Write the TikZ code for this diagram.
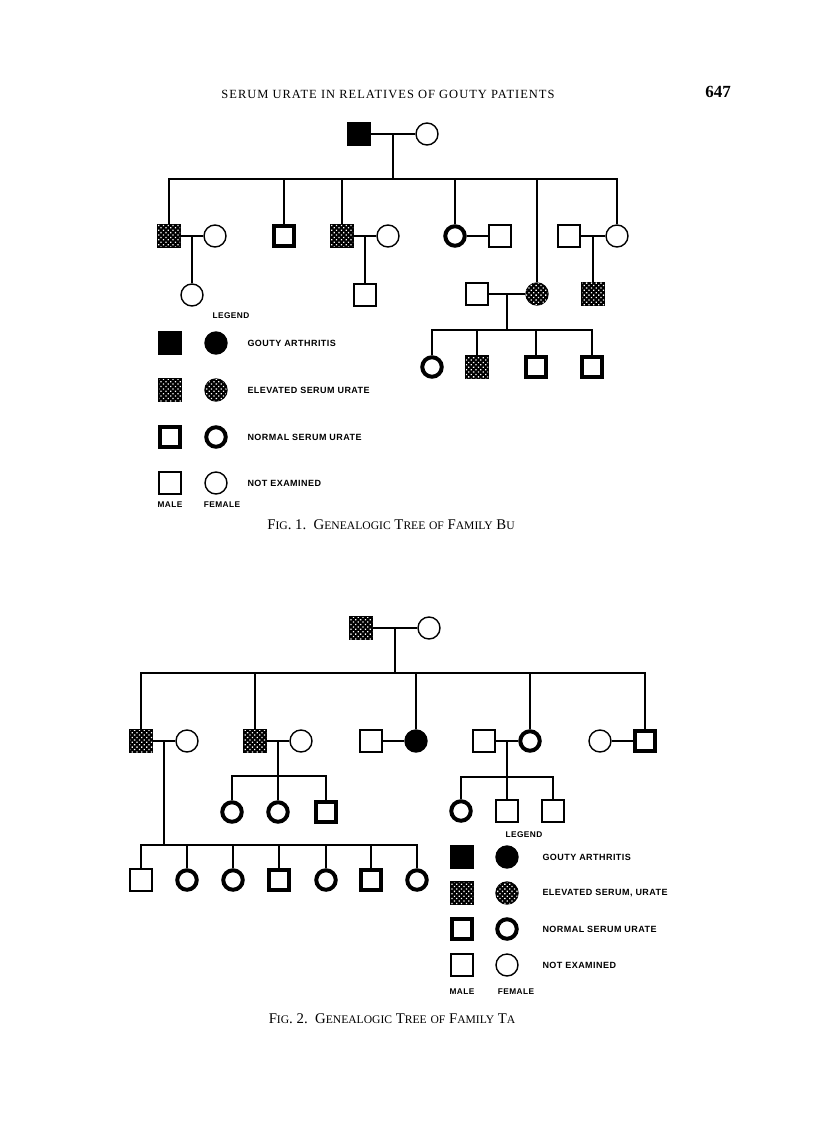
\documentclass[tikz,border=0pt]{standalone}
\usepackage{fontspec}
\setmainfont{Liberation Serif}
\newfontfamily\legfont{Liberation Sans}[LetterSpace=5]
\usepackage{tikz}
\usetikzlibrary{calc,patterns.meta}
\newcommand{\fsc}[2]{#1{\fontsize{11.6}{13}\selectfont #2}}

\begin{document}
\begin{tikzpicture}[x=1pt, y=-1pt,
  link/.style={line width=1.7pt},
  male/.style={draw, rectangle, minimum size=22pt, inner sep=0pt, line width=1.4pt},
  female/.style={draw, circle, minimum size=22pt, inner sep=0pt, line width=1.4pt},
  gouty/.style={fill=black},
  raised/.style={fill=black, postaction={pattern={Dots[radius=0.9pt, distance=3.4pt, angle=45]}, pattern color=white}},
  normur/.style={line width=4pt, minimum size=19.5pt},
  leg/.style={font=\legfont\bfseries\fontsize{9}{10}\selectfont, anchor=west},
  legsm/.style={font=\legfont\bfseries\fontsize{8.3}{9}\selectfont}]
\useasboundingbox (0,0) rectangle (816,1139);
\fill[white] (0,0) rectangle (816,1139);
% page head
\node[font=\fontsize{12.5}{14}\selectfont\addfontfeatures{LetterSpace=8}] (head) at (388,94) {SERUM URATE IN RELATIVES OF GOUTY PATIENTS};
\node[font=\bfseries\fontsize{17}{19}\selectfont] (pageno) at (718,92) {647};

% ---- Fig. 1, family Bu ----
\node[male, gouty] (bu1) at (359,134) {};
\node[female] (bu2) at (427,134) {};
\draw[link] (bu1) -- (bu2);
\coordinate (bum1) at ($(bu1)!0.5!(bu2)$);
\coordinate (bus1) at (393,179);
\draw[link] (bum1) -- (bus1);
% second generation
\node[male, raised] (bu3) at (169,236) {};
\node[female] (bu3w) at (215,236) {};
\node[male, normur] (bu4) at (284,236) {};
\node[male, raised] (bu5) at (342,236) {};
\node[female] (bu5w) at (388,236) {};
\node[female, normur] (bu6) at (455,236) {};
\node[male] (bu6h) at (500,236) {};
\node[female, raised] (bu7) at (537,294) {};
\node[male] (bu7h) at (477,294) {};
\node[male] (bu8h) at (569,236) {};
\node[female] (bu8) at (617,236) {};
\draw[link] (bu3) |- (bus1) -| (bu8);
\draw[link] (bu4) -- (bu4 |- bus1);
\draw[link] (bu5) -- (bu5 |- bus1);
\draw[link] (bu6) -- (bu6 |- bus1);
\draw[link] (bu7) -- (bu7 |- bus1);
\draw[link] (bu3) -- (bu3w);
\draw[link] (bu5) -- (bu5w);
\draw[link] (bu6) -- (bu6h);
\draw[link] (bu7h) -- (bu7);
\draw[link] (bu8h) -- (bu8);
% third generation
\node[female] (bu9) at (192,295) {};
\node[male] (bu10) at (365,295) {};
\node[male, raised] (bu11) at (593,294) {};
\draw[link] ($(bu3)!0.5!(bu3w)$) -- (bu9);
\draw[link] ($(bu5)!0.5!(bu5w)$) -- (bu10);
\draw[link] ($(bu8h)!0.5!(bu8)$) -- (bu11);
\coordinate (bum3) at ($(bu7h)!0.5!(bu7)$);
\coordinate (bus3) at (507,330);
\draw[link] (bum3) -- (bus3);
\node[female, normur] (bu12) at (432,367) {};
\node[male, raised] (bu13) at (477,367) {};
\node[male, normur] (bu14) at (536,367) {};
\node[male, normur] (bu15) at (592,367) {};
\draw[link] (bu12) |- (bus3) -| (bu15);
\draw[link] (bu13) -- (bu13 |- bus3);
\draw[link] (bu14) -- (bu14 |- bus3);
% legend
\node[legsm] (bulegend) at (231,316) {LEGEND};
\node[male, gouty] (bulg1) at (170,343) {};
\node[female, gouty] (bulg2) at (216,343) {};
\node[leg] (bulg3) at (244,343) {GOUTY ARTHRITIS};
\node[male, raised] (bulr1) at (170,390) {};
\node[female, raised] (bulr2) at (216,390) {};
\node[leg] (bulr3) at (244,390) {ELEVATED SERUM URATE};
\node[male, normur] (buln1) at (170,437) {};
\node[female, normur] (buln2) at (216,437) {};
\node[leg] (buln3) at (244,437) {NORMAL SERUM URATE};
\node[male] (bulx1) at (170,483) {};
\node[female] (bulx2) at (216,483) {};
\node[leg] (bulx3) at (244,483) {NOT EXAMINED};
\node[legsm] (bumale) at (170,505) {MALE};
\node[legsm] (bufemale) at (222,505) {FEMALE};
\node[font=\fontsize{14.8}{16}\selectfont] (bucap) at (391,525)
  {\fsc{F}{IG}. 1.\ \ \fsc{G}{ENEALOGIC} \fsc{T}{REE} {\fontsize{11.6}{13}\selectfont OF} \fsc{F}{AMILY} \fsc{B}{U}};

% ---- Fig. 2, family Ta ----
\node[male, raised] (ta1) at (361,628) {};
\node[female] (ta2) at (429,628) {};
\draw[link] (ta1) -- (ta2);
\coordinate (tam1) at ($(ta1)!0.5!(ta2)$);
\coordinate (tas1) at (395,673);
\draw[link] (tam1) -- (tas1);
% second generation
\node[male, raised] (ta3) at (141,741) {};
\node[female] (ta3w) at (187,741) {};
\node[male, raised] (ta4) at (255,741) {};
\node[female] (ta4w) at (301,741) {};
\node[male] (ta5h) at (371,741) {};
\node[female, gouty] (ta5) at (416,741) {};
\node[male] (ta6h) at (484,741) {};
\node[female, normur] (ta6) at (530,741) {};
\node[female] (ta7w) at (600,741) {};
\node[male, normur] (ta7) at (645,741) {};
\draw[link] (ta3) |- (tas1) -| (ta7);
\draw[link] (ta4) -- (ta4 |- tas1);
\draw[link] (ta5) -- (ta5 |- tas1);
\draw[link] (ta6) -- (ta6 |- tas1);
\draw[link] (ta3) -- (ta3w);
\draw[link] (ta4) -- (ta4w);
\draw[link] (ta5h) -- (ta5);
\draw[link] (ta6h) -- (ta6);
\draw[link] (ta7w) -- (ta7);
% children of ta4
\coordinate (tas4) at (278,776);
\draw[link] ($(ta4)!0.5!(ta4w)$) -- (tas4);
\node[female, normur] (ta8) at (232,812) {};
\node[female, normur] (ta9) at (278,812) {};
\node[male, normur] (ta10) at (326,812) {};
\draw[link] (ta8) |- (tas4) -| (ta10);
\draw[link] (ta9) -- (ta9 |- tas4);
% children of ta6
\coordinate (tas6) at (507,777);
\draw[link] ($(ta6h)!0.5!(ta6)$) -- (tas6);
\node[female, normur] (ta11) at (461,811) {};
\node[male] (ta12) at (507,811) {};
\node[male] (ta13) at (553,811) {};
\draw[link] (ta11) |- (tas6) -| (ta13);
\draw[link] (ta12) -- (ta12 |- tas6);
% children of ta3
\coordinate (tas3) at (164,845);
\draw[link] ($(ta3)!0.5!(ta3w)$) -- (tas3);
\node[male] (ta14) at (141,880) {};
\node[female, normur] (ta15) at (187,880) {};
\node[female, normur] (ta16) at (233,880) {};
\node[male, normur] (ta17) at (279,880) {};
\node[female, normur] (ta18) at (326,880) {};
\node[male, normur] (ta19) at (371,880) {};
\node[female, normur] (ta20) at (417,880) {};
\draw[link] (ta14) |- (tas3) -| (ta20);
\draw[link] (ta15) -- (ta15 |- tas3);
\draw[link] (ta16) -- (ta16 |- tas3);
\draw[link] (ta17) -- (ta17 |- tas3);
\draw[link] (ta18) -- (ta18 |- tas3);
\draw[link] (ta19) -- (ta19 |- tas3);
% legend
\node[legsm] (talegend) at (524,835) {LEGEND};
\node[male, gouty] (talg1) at (462,857) {};
\node[female, gouty] (talg2) at (507,857) {};
\node[leg] (talg3) at (539,857) {GOUTY ARTHRITIS};
\node[male, raised] (talr1) at (462,893) {};
\node[female, raised] (talr2) at (507,893) {};
\node[leg] (talr3) at (539,893) {ELEVATED SERUM, URATE};
\node[male, normur] (taln1) at (462,929) {};
\node[female, normur] (taln2) at (507,929) {};
\node[leg] (taln3) at (539,929) {NORMAL SERUM URATE};
\node[male] (talx1) at (462,965) {};
\node[female] (talx2) at (507,965) {};
\node[leg] (talx3) at (539,965) {NOT EXAMINED};
\node[legsm] (tamale) at (462,992) {MALE};
\node[legsm] (tafemale) at (516,992) {FEMALE};
\node[font=\fontsize{14.8}{16}\selectfont] (tacap) at (392,1019)
  {\fsc{F}{IG}. 2.\ \ \fsc{G}{ENEALOGIC} \fsc{T}{REE} {\fontsize{11.6}{13}\selectfont OF} \fsc{F}{AMILY} \fsc{T}{A}};
\end{tikzpicture}
\end{document}
